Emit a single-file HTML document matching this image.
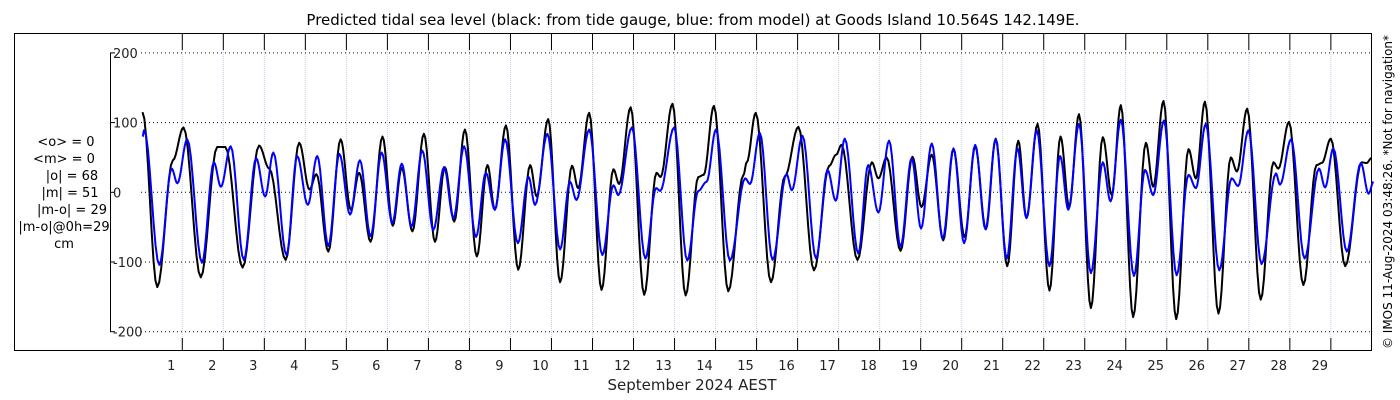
<!DOCTYPE html>
<html><head><meta charset="utf-8"><style>
body{margin:0;background:#fff;}
svg{display:block;font-family:"DejaVu Sans","Liberation Sans",sans-serif;}
</style></head><body>
<svg id="chart" width="1400" height="400" viewBox="0 0 1400 400" xmlns="http://www.w3.org/2000/svg">
<rect x="0" y="0" width="1400" height="400" fill="#fff"/>
<text x="693" y="25" font-size="15" text-anchor="middle">Predicted tidal sea level (black: from tide gauge, blue: from model) at Goods Island 10.564S 142.149E.</text>
<g id="grid"></g>
<rect x="14.5" y="33.5" width="1357" height="317" fill="none" stroke="#000" stroke-width="1"/>
<g id="axes"></g>
<g id="series"></g>
<g font-size="13" text-anchor="middle">
<text x="66" y="146">&lt;o&gt; = 0</text>
<text x="64" y="163">&lt;m&gt; = 0</text>
<text x="72" y="180">|o| = 68</text>
<text x="70" y="197">|m| = 51</text>
<text x="72" y="214">|m-o| = 29</text>
<text x="64" y="231">|m-o|@0h=29</text>
<text x="64" y="248">cm</text>
</g>
<text x="692" y="390" font-size="15" text-anchor="middle" fill="#222">September 2024 AEST</text>
<text transform="translate(1392,192) rotate(-90)" font-size="12" text-anchor="middle">© IMOS 11-Aug-2024 03:48:26. *Not for navigation*</text>
</svg>
<script>
const dayLabels = [1,2,3,4,5,6,7,8,9,10,11,12,13,14,15,16,17,18,19,20,21,22,23,24,25,26,27,28,29];
const yTicks = [200,100,0,-100,-200];
const obsTimes = [0.03,0.39,0.77,1.03,1.45,1.85,2.05,2.47,2.87,3.12,3.52,3.85,4.10,4.27,4.56,4.86,5.11,5.31,5.59,5.88,6.13,6.35,6.61,6.89,7.16,7.40,7.63,7.89,8.18,8.44,8.62,8.89,9.19,9.48,9.64,9.92,10.21,10.50,10.65,10.92,11.22,11.51,11.65,11.93,12.26,12.56,12.66,12.95,13.27,13.58,13.71,13.96,14.31,14.68,14.76,14.98,15.35,15.69,16.02,16.40,16.77,16.94,17.07,17.46,17.81,17.97,18.17,18.51,18.80,19.02,19.27,19.55,19.80,20.07,20.33,20.59,20.83,21.11,21.38,21.58,21.85,22.14,22.41,22.62,22.86,23.15,23.44,23.66,23.88,24.18,24.49,24.67,24.92,25.23,25.53,25.71,25.93,26.26,26.56,26.71,26.96,27.29,27.60,27.72,27.98,28.33,28.65,28.78,29.00,29.35,29.75,29.87,29.99];
const obsValues = [115,-136,46,93,-122,65,65,-108,67,34,-97,71,4,26,-85,76,-25,28,-71,80,-48,35,-56,84,-71,36,-42,90,-92,39,-25,96,-111,39,-6,105,-129,38,6,114,-140,33,12,122,-147,28,22,127,-148,22,25,124,-142,25,43,114,-129,23,94,-112,38,54,68,-97,43,20,50,-84,51,-21,54,-69,62,-64,66,-53,77,-106,74,-37,98,-141,80,-21,112,-166,79,-4,125,-179,71,8,131,-182,62,20,130,-174,50,30,120,-154,43,34,101,-133,39,42,77,-106,43,42,49];
const modTimes = [0.03,0.07,0.44,0.74,0.88,1.12,1.48,1.77,1.94,2.18,2.50,2.80,3.02,3.22,3.54,3.80,4.06,4.29,4.56,4.83,5.09,5.33,5.59,5.86,6.12,6.35,6.59,6.85,7.12,7.38,7.61,7.87,8.16,8.40,8.62,8.87,9.18,9.44,9.60,9.90,10.21,10.45,10.61,10.92,11.24,11.51,11.63,11.96,12.29,12.55,12.65,12.99,13.31,13.58,13.78,14.01,14.35,14.72,14.84,15.08,15.39,15.73,15.86,16.12,16.45,16.73,16.93,17.15,17.48,17.72,17.97,18.23,18.51,18.78,19.01,19.27,19.54,19.80,20.06,20.33,20.58,20.83,21.10,21.36,21.58,21.83,22.14,22.40,22.60,22.86,23.15,23.44,23.63,23.88,24.20,24.47,24.67,24.93,25.24,25.53,25.71,25.95,26.28,26.58,26.74,26.99,27.31,27.66,27.76,28.03,28.36,28.71,28.86,29.06,29.39,29.73,29.92,30.04];
const modValues = [80,89,-104,34,13,76,-101,43,8,66,-97,49,-6,57,-90,52,-18,52,-77,55,-32,46,-63,57,-44,41,-49,60,-54,36,-37,66,-64,28,-25,76,-73,22,-18,84,-82,15,-11,90,-90,10,-4,93,-95,6,2,93,-98,2,15,90,-98,20,12,85,-97,26,3,81,-95,32,-12,77,-88,39,-29,74,-78,49,-52,70,-66,63,-73,68,-53,76,-95,63,-37,89,-106,52,-25,98,-116,43,-13,104,-120,32,-4,103,-119,25,6,98,-112,20,9,89,-103,27,11,76,-95,34,7,63,-85,42,-2,15];

const NS = 'http://www.w3.org/2000/svg';
function xScale(t){ return 182.3 + 41.02*(t-1); }
function yScale(v){ return 192.3 - v*0.697; }
function mk(tag, attrs, parent){ const e=document.createElementNS(NS,tag); for(const k in attrs) e.setAttribute(k,attrs[k]); parent.appendChild(e); return e; }

const grid = document.getElementById('grid');
const axes = document.getElementById('axes');
const series = document.getElementById('series');

for(let i=1;i<=29;i++){
  const x = xScale(i);
  const l = mk('line',{x1:x,x2:x,y1:34,y2:350,stroke:'#c8cde8','stroke-width':1,'stroke-dasharray':'1,1'},grid);
  
  
  const t1 = mk('line',{x1:x,x2:x,y1:34,y2:50,stroke:'#000','stroke-width':1},axes);
  
  
  const t2 = mk('line',{x1:x,x2:x,y1:338,y2:350,stroke:'#000','stroke-width':1},axes);
  
  
}
dayLabels.forEach(function(d){
  const tx = mk('text',{x:xScale(d-0.27),y:370,'font-size':13,'text-anchor':'middle',fill:'#222'},axes);
  tx.textContent = String(d);
  
  
});
const ya = mk('line',{x1:110.5,x2:110.5,y1:yScale(200),y2:yScale(-200),stroke:'#000','stroke-width':1},axes);


yTicks.forEach(function(v){
  const y = yScale(v);
  const g = mk('line',{x1:141,x2:1371,y1:y,y2:y,stroke:'#000','stroke-width':1,'stroke-dasharray':'1,3'},grid);
  
  
  const tk = mk('line',{x1:110,x2:115,y1:y,y2:y,stroke:'#000','stroke-width':1},axes);
  
  
  const lb = mk('text',{x:113,y:y+5,'font-size':13,fill:'#222'},axes);
  lb.textContent = String(v);
  
  
});

function curve(ts, vs){
  const n = Math.min(ts.length, vs.length);
  let d = 'M'+xScale(ts[0]).toFixed(2)+','+yScale(vs[0]).toFixed(2);
  for(let i=1;i<n;i++){
    const x0=xScale(ts[i-1]), x1=xScale(ts[i]), y0=yScale(vs[i-1]), y1=yScale(vs[i]);
    const m=8;
    for(let k=1;k<=m;k++){
      const f=k/m, s=(1-Math.cos(Math.PI*f))/2;
      d += 'L'+(x0+(x1-x0)*f).toFixed(2)+','+(y0+(y1-y0)*s).toFixed(2);
    }
  }
  return d;
}
const pObs = mk('path',{d:curve(obsTimes,obsValues),fill:'none',stroke:'#000','stroke-width':2,'stroke-linejoin':'round'},series);


const pMod = mk('path',{d:curve(modTimes,modValues),fill:'none',stroke:'#0000ff','stroke-width':2,'stroke-linejoin':'round'},series);


</script>
</body></html>
